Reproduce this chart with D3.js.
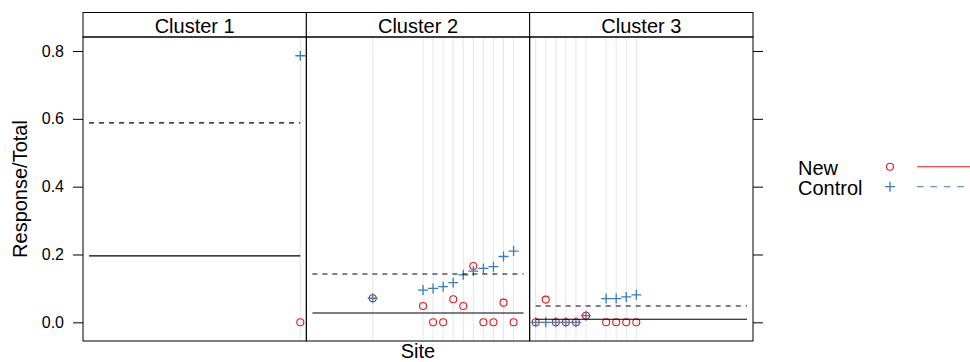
<!DOCTYPE html>
<html>
<head>
<meta charset="utf-8">
<script src="https://cdn.jsdelivr.net/npm/d3@7"></script>
<style>
  html, body { margin: 0; padding: 0; background: #fff; }
  svg { display: block; font-family: "Liberation Sans", Arial, Helvetica, sans-serif; }
</style>
</head>
<body>
<svg id="chart" width="970" height="362"></svg>
<script>
// Panels (one per cluster), left to right
const clusters = ["Cluster 1", "Cluster 2", "Cluster 3"];

// Sites 1..22, the cluster each site belongs to, and the observed proportions
const siteIds      = [1, 2, 3, 4, 5, 6, 7, 8, 9, 10, 11, 12, 13, 14, 15, 16, 17, 18, 19, 20, 21, 22];
const siteCluster  = [3, 3, 3, 3, 3, 3, 2, 3, 3, 3, 3, 2, 2, 2, 2, 2, 2, 2, 2, 2, 2, 1];
const newRate      = [0, 0.067, 0, 0, 0, 0.0195, 0.071, 0, 0, 0, 0,
                      0.048, 0, 0, 0.068, 0.048, 0.166, 0, 0, 0.058, 0, 0];
const controlRate  = [0, 0, 0, 0, 0, 0.0195, 0.071, 0.070, 0.070, 0.075, 0.081,
                      0.095, 0.100, 0.105, 0.117, 0.140, 0.151, 0.159, 0.164, 0.194, 0.210, 0.786];

// Per-cluster summary levels (Cluster 1, 2, 3)
const newMean     = [0.196, 0.0274, 0.0089];
const controlMean = [0.588, 0.1425, 0.048];

// Axis ticks and legend entries
const yTicks = [0, 0.2, 0.4, 0.6, 0.8];
const groups = ["New", "Control"];
const groupColors = ["#E41A1C", "#377EB8"];

const svg = d3.select("#chart");

const plotLeft = 83, plotRight = 753;
const stripTop = 12.5, panelTop = 37, panelBottom = 341;
const panelW = (plotRight - plotLeft) / clusters.length;

const y = d3.scaleLinear().domain([-0.0551, 0.8413]).range([panelBottom, panelTop]);

const rows = siteIds.map((s, i) => ({
  site: s, cluster: siteCluster[i], nw: newRate[i], ctl: controlRate[i]
}));

const plusPath = (cx, cy, h) => `M${cx - h},${cy}H${cx + h}M${cx},${cy - h}V${cy + h}`;

clusters.forEach((name, p) => {
  const x0 = plotLeft + p * panelW, x1 = x0 + panelW;
  const x = d3.scaleLinear().domain([0.4, 22.6]).range([x0, x1]);
  const cl = p + 1;
  const data = rows.filter(d => d.cluster === cl);
  const g = svg.append("g");

  // reference lines at each site
  g.selectAll("line.site").data(data).join("line")
    .attr("x1", d => x(d.site)).attr("x2", d => x(d.site))
    .attr("y1", panelTop).attr("y2", panelBottom)
    .attr("stroke", "#e6e6e6").attr("stroke-width", 1);

  // observed proportions
  g.selectAll("circle.new").data(data).join("circle")
    .attr("cx", d => x(d.site)).attr("cy", d => y(d.nw)).attr("r", 3.5)
    .attr("fill", "none").attr("stroke", groupColors[0]).attr("stroke-width", 1.1);
  g.selectAll("path.ctl").data(data).join("path")
    .attr("d", d => plusPath(x(d.site), y(d.ctl), 5))
    .attr("fill", "none").attr("stroke", groupColors[1]).attr("stroke-width", 1.3);

  // cluster-level summaries across the site range
  g.append("line")
    .attr("x1", x(1)).attr("x2", x(22))
    .attr("y1", y(newMean[p])).attr("y2", y(newMean[p]))
    .attr("stroke", "#000").attr("stroke-width", 1.1);
  g.append("line")
    .attr("x1", x(1)).attr("x2", x(22))
    .attr("y1", y(controlMean[p])).attr("y2", y(controlMean[p]))
    .attr("stroke", "#000").attr("stroke-width", 1.1)
    .attr("stroke-dasharray", "5,5");

  // strip
  g.append("rect")
    .attr("x", x0).attr("y", stripTop).attr("width", panelW).attr("height", panelTop - stripTop)
    .attr("fill", "#fff").attr("stroke", "#000").attr("stroke-width", 1);
  g.append("text")
    .attr("x", (x0 + x1) / 2).attr("y", 33)
    .attr("text-anchor", "middle").attr("font-size", 20).attr("fill", "#000")
    .text(name);

  // panel border
  g.append("rect")
    .attr("x", x0).attr("y", panelTop).attr("width", panelW).attr("height", panelBottom - panelTop)
    .attr("fill", "none").attr("stroke", "#000").attr("stroke-width", 1);
});

// left axis with labels
const yAxisL = d3.axisLeft(y).tickValues(yTicks).tickFormat(d3.format(".1f"))
  .tickSize(10).tickPadding(9);
const gl = svg.append("g").attr("transform", `translate(${plotLeft},0)`).call(yAxisL);
gl.select(".domain").remove();
gl.selectAll("line").attr("stroke", "#000");
gl.selectAll("text").attr("font-size", 16).attr("fill", "#000")
  .attr("font-family", "Liberation Sans, Arial, sans-serif");

// right axis ticks only
const yAxisR = d3.axisRight(y).tickValues(yTicks).tickFormat("").tickSize(10);
const gr = svg.append("g").attr("transform", `translate(${plotRight},0)`).call(yAxisR);
gr.select(".domain").remove();
gr.selectAll("line").attr("stroke", "#000");

// axis titles
svg.append("text")
  .attr("x", (plotLeft + plotRight) / 2).attr("y", 358)
  .attr("text-anchor", "middle").attr("font-size", 20).text("Site");
svg.append("text")
  .attr("transform", `translate(27,${(panelTop + panelBottom) / 2}) rotate(-90)`)
  .attr("text-anchor", "middle").attr("font-size", 20).text("Response/Total");

// legend
const legend = svg.append("g");
groups.forEach((gname, i) => {
  const cy = 166.7 + i * 20;
  legend.append("text").attr("x", 798).attr("y", cy + 8.6)
    .attr("font-size", 20).text(gname);
  if (i === 0) {
    legend.append("circle").attr("cx", 890).attr("cy", cy).attr("r", 3.5)
      .attr("fill", "none").attr("stroke", groupColors[i]).attr("stroke-width", 1.1);
  } else {
    legend.append("path").attr("d", plusPath(890, cy, 5))
      .attr("fill", "none").attr("stroke", groupColors[i]).attr("stroke-width", 1.3);
  }
  legend.append("line").attr("x1", 917).attr("x2", 972)
    .attr("y1", cy).attr("y2", cy)
    .attr("stroke", groupColors[i]).attr("stroke-width", 1.1)
    .attr("stroke-dasharray", i === 0 ? null : "6.7,6.7");
});
</script>
</body>
</html>
